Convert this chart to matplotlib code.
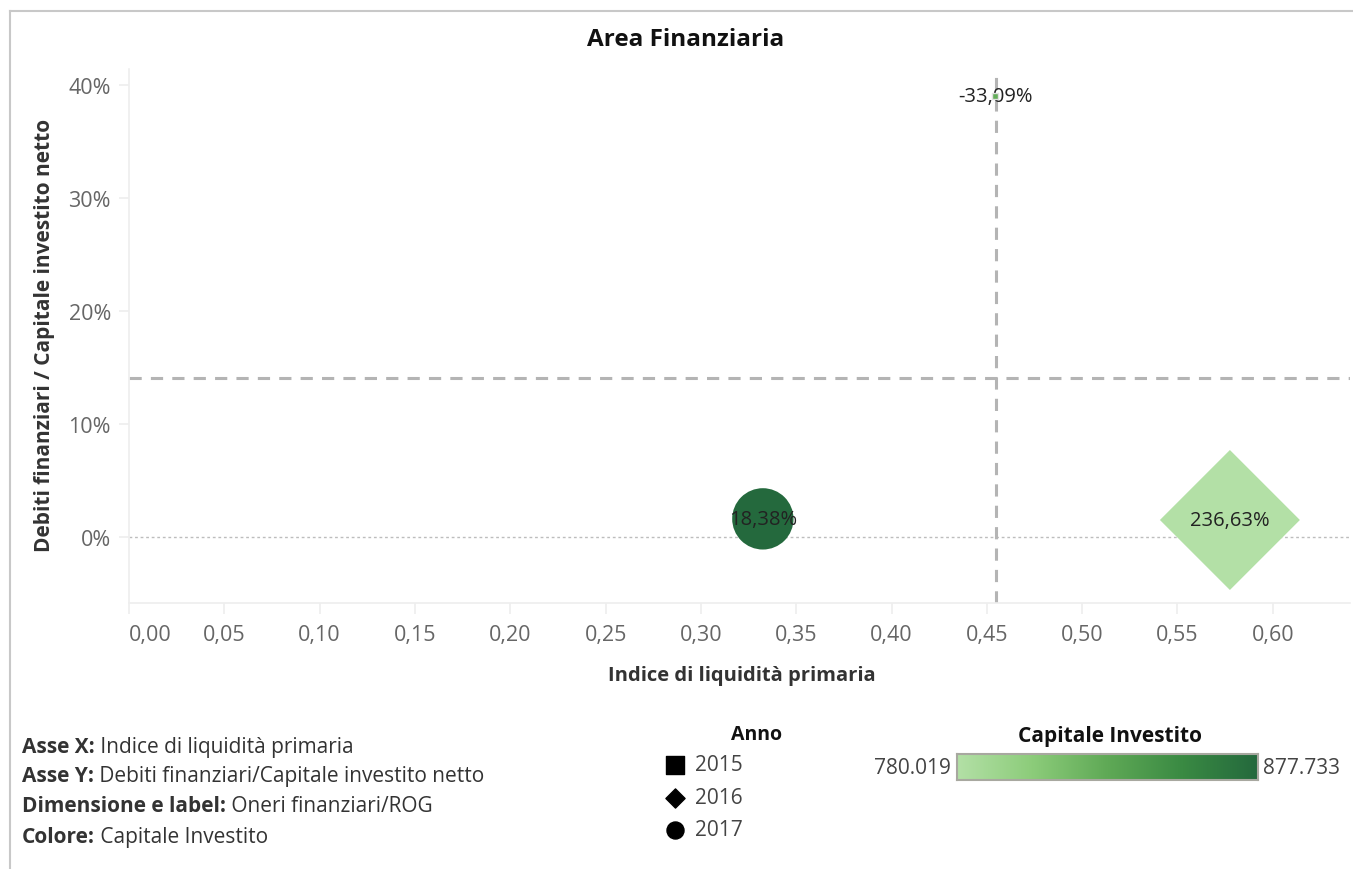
import matplotlib
matplotlib.use("Agg")
import matplotlib.pyplot as plt
import numpy as np
from matplotlib.colors import LinearSegmentedColormap, Normalize
from matplotlib.lines import Line2D

# ---------------- data ----------------
anni = ["2015", "2016", "2017"]
liquidita = [0.4545, 0.5775, 0.3325]          # Indice di liquidità primaria
debiti_cap = [0.390, 0.0150, 0.0160]          # Debiti finanziari / Capitale investito netto
oneri_rog = [-33.09, 236.63, 18.38]           # Oneri finanziari / ROG (%)
capitale = [826.0, 780.019, 877.733]          # Capitale Investito
cap_min, cap_max = 780.019, 877.733
x_ticks = [0.00, 0.05, 0.10, 0.15, 0.20, 0.25, 0.30, 0.35, 0.40, 0.45, 0.50, 0.55, 0.60]
y_ticks = [0.0, 0.10, 0.20, 0.30, 0.40]
markers = {"2015": "s", "2016": "D", "2017": "o"}

plt.rcParams['font.family'] = ['Open Sans', 'DejaVu Sans']

W, H = 1353, 870
fig = plt.figure(figsize=(W / 100, H / 100), dpi=100)

def px(x0, y0, x1, y1):
    return [x0 / W, 1 - y1 / H, (x1 - x0) / W, (y1 - y0) / H]

cmap = LinearSegmentedColormap.from_list(
    "tgreen", ["#b3e0a6", "#8ccc7a", "#5fa956", "#3a8a43", "#24693d"])
norm = Normalize(cap_min, cap_max)

ax = fig.add_axes(px(129, 70, 1350, 604))
ax.set_xlim(0.0, 0.6405)
ax.set_ylim(-0.0584, 0.4138)

# size mapping: bounding-box area linear in value
bb_min, bb_max = 14.0, 10160.0
vmin, vmax = min(oneri_rog), max(oneri_rog)
for a, xv, yv, v, c in zip(anni, liquidita, debiti_cap, oneri_rog, capitale):
    bb = bb_min + (v - vmin) / (vmax - vmin) * (bb_max - bb_min)
    m = markers[a]
    s = bb / 2.0 if m == "D" else bb
    ec = "#e0e0e0" if a == "2015" else "none"
    ax.scatter([xv], [yv], s=s, marker=m, color=cmap(norm(c)),
               edgecolors=ec, linewidths=1.0, zorder=5 if a == "2015" else 3)
    lab = f"{v:.2f}%".replace(".", ",")
    ax.text(xv, yv, lab, ha="center", va="center", fontsize=14.5,
            color="#222222", zorder=4)

# reference lines (averages)
ax.axvline(np.mean(liquidita), color="#b4b4b4", lw=2.2, ls=(0, (4, 3)), zorder=2)
ax.axhline(np.mean(debiti_cap), color="#b4b4b4", lw=2.2, ls=(0, (4, 3)), zorder=2)
ax.axhline(0, color="#bdbdbd", lw=1.0, ls=(0, (2, 2)), zorder=1)

for sp in ["top", "right"]:
    ax.spines[sp].set_visible(False)
for sp in ["left", "bottom"]:
    ax.spines[sp].set_color("#eeeeee")
    ax.spines[sp].set_linewidth(1.2)

ax.set_xticks(x_ticks)
ax.set_xticklabels([f"{t:.2f}".replace(".", ",") for t in x_ticks])
ax.set_yticks(y_ticks)
ax.set_yticklabels([f"{int(round(t*100))}%" for t in y_ticks])
ax.tick_params(axis="both", colors="#eeeeee", labelcolor="#666666",
               labelsize=15.5, length=8, width=1.2)
ax.tick_params(axis="x", pad=7)
ax.tick_params(axis="y", length=7, pad=6)
ax.get_xticklabels()[0].set_horizontalalignment("left")

fig.text(742 / W, 1 - 676 / H, "Indice di liquidità primaria", ha="center",
         va="center", fontsize=14.5, fontweight="bold", color="#333333")
fig.text(45 / W, 1 - 335 / H, "Debiti finanziari / Capitale investito netto",
         ha="center", va="center", rotation=90, fontsize=15, fontweight="bold",
         color="#333333")
fig.text(686 / W, 1 - 40 / H, "Area Finanziaria", ha="center", va="center",
         fontsize=17.5, fontweight="bold", color="#111111")

# outer border
fig.add_artist(Line2D([10 / W, 10 / W], [0, 1 - 12 / H], transform=fig.transFigure,
                      color="#c8c8c8", lw=1.5))
fig.add_artist(Line2D([10 / W, 1], [1 - 12 / H, 1 - 12 / H], transform=fig.transFigure,
                      color="#c8c8c8", lw=1.5))

# description text
desc = [("Asse X:", " Indice di liquidità primaria"),
        ("Asse Y:", " Debiti finanziari/Capitale investito netto"),
        ("Dimensione e label:", " Oneri finanziari/ROG"),
        ("Colore:", " Capitale Investito")]
ys = [748, 777, 807, 838]
bold_texts = []
for (b, r), yy in zip(desc, ys):
    t = fig.text(22 / W, 1 - yy / H, b, ha="left", va="center", fontsize=15,
                 fontweight="bold", color="#333333")
    bold_texts.append(t)
renderer = fig.canvas.get_renderer()
for (b, r), yy, tb in zip(desc, ys, bold_texts):
    bb = tb.get_window_extent(renderer)
    fig.text(bb.x1 / W, 1 - yy / H, r, ha="left", va="center", fontsize=15,
             color="#333333")

# shape legend
fig.text(757 / W, 1 - 735 / H, "Anno", ha="center", va="center", fontsize=14,
         fontweight="bold", color="#111111")
legax = fig.add_axes([0, 0, 1, 1], facecolor="none")
legax.set_xlim(0, W)
legax.set_ylim(H, 0)
legax.axis("off")
for a, yy in zip(anni, [766, 799, 831]):
    legax.scatter([675], [yy], marker=markers[a], s=150 if a != "2016" else 95,
                  color="black")
    legax.text(695, yy, a, ha="left", va="center", fontsize=15, color="#444444")

# color legend
fig.text(1110 / W, 1 - 737 / H, "Capitale Investito", ha="center", va="center",
         fontsize=15, fontweight="bold", color="#111111")
cax = fig.add_axes(px(957, 755, 1258, 781))
grad = np.linspace(0, 1, 256).reshape(1, -1)
cax.imshow(grad, aspect="auto", cmap=cmap, extent=[0, 1, 0, 1])
cax.set_xticks([])
cax.set_yticks([])
for sp in cax.spines.values():
    sp.set_color("#a8a8a0")
    sp.set_linewidth(1.5)
fig.text(951 / W, 1 - 769 / H, f"{cap_min:.3f}", ha="right", va="center",
         fontsize=15, color="#444444")
fig.text(1263 / W, 1 - 769 / H, f"{cap_max:.3f}", ha="left", va="center",
         fontsize=15, color="#444444")

fig.savefig("out.png", dpi=100)
